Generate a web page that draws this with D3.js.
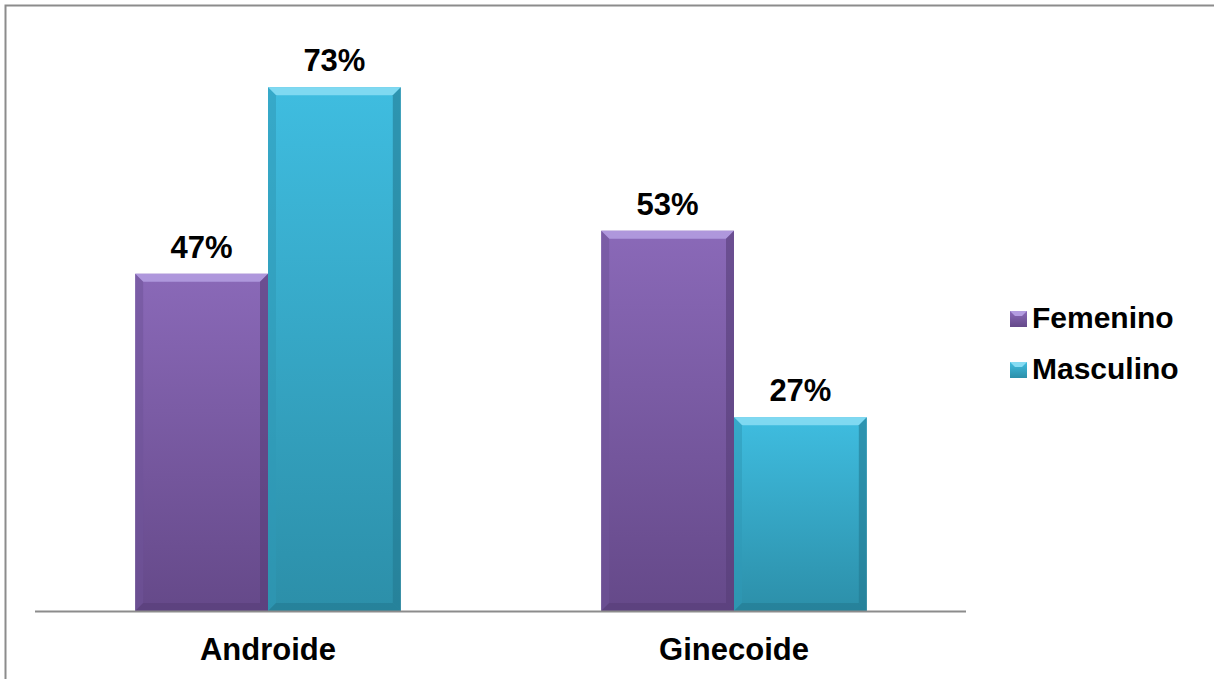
<!DOCTYPE html>
<html>
<head>
<meta charset="utf-8">
<script src="https://cdn.jsdelivr.net/npm/d3@7"></script>
<style>
  body { margin: 0; background: #fff; }
  text { font-family: Arial, "Liberation Sans", sans-serif; font-weight: bold; fill: #000; }
</style>
</head>
<body>
<script>
// categories and series
var categories = ["Androide", "Ginecoide"];
var seriesNames = ["Femenino", "Masculino"];
var femenino = [0.47, 0.53];
var masculino = [0.73, 0.27];

var width = 1214,
    height = 679;

var svg = d3.select("body").append("svg")
    .attr("width", width)
    .attr("height", height);

// gradients for the bevelled look
var palette = {
  Femenino:  { top: "#8a69b8", bottom: "#654989", light: "#b39ce0", side: "#6f5399", dark: "#563d78" },
  Masculino: { top: "#3fbde0", bottom: "#2c8fa9", light: "#86dcf3", side: "#3099b6", dark: "#237a91" }
};

var defs = svg.append("defs");
seriesNames.forEach(function(s) {
  var g = defs.append("linearGradient")
      .attr("id", "grad-" + s)
      .attr("x1", 0).attr("y1", 0).attr("x2", 0).attr("y2", 1);
  g.append("stop").attr("offset", "0%").attr("stop-color", palette[s].top);
  g.append("stop").attr("offset", "100%").attr("stop-color", palette[s].bottom);
});

// outer frame (right/bottom edges fall outside the picture)
svg.append("rect")
    .attr("x", 5.5).attr("y", 5.5)
    .attr("width", 1230).attr("height", 700)
    .attr("fill", "none")
    .attr("stroke", "#8c8c8c")
    .attr("stroke-width", 2);

var x0 = d3.scaleBand()
    .domain(categories)
    .range([35, 967])
    .paddingInner(0.43)
    .paddingOuter(0.215);

var x1 = d3.scaleBand()
    .domain(seriesNames)
    .range([0, x0.bandwidth()]);

var y = d3.scaleLinear()
    .domain([0, 0.8])
    .range([611, 37]);

var rows = categories.map(function(c, i) {
  return { category: c, values: [
    { series: "Femenino", value: femenino[i] },
    { series: "Masculino", value: masculino[i] }
  ]};
});

var bev = 8;

var groups = svg.selectAll(".group")
    .data(rows)
    .enter()
    .append("g")
      .attr("class", "group")
      .attr("transform", function(d) { return "translate(" + x0(d.category) + ",0)"; });

var bars = groups.selectAll(".bar")
    .data(function(d) { return d.values; })
    .enter()
    .append("g")
      .attr("class", "bar");

bars.each(function(d) {
  var g = d3.select(this),
      bx = x1(d.series),
      bw = x1.bandwidth(),
      by = y(d.value),
      bh = y(0) - y(d.value),
      p = palette[d.series];

  g.append("rect")
      .attr("x", bx).attr("y", by)
      .attr("width", bw).attr("height", bh)
      .attr("fill", "url(#grad-" + d.series + ")");

  // top bevel
  g.append("path")
      .attr("d", "M" + bx + "," + by + "L" + (bx + bw) + "," + by +
                 "L" + (bx + bw - bev) + "," + (by + bev) + "L" + (bx + bev) + "," + (by + bev) + "Z")
      .attr("fill", p.light).attr("opacity", 0.9);
  // left bevel
  g.append("path")
      .attr("d", "M" + bx + "," + by + "L" + (bx + bev) + "," + (by + bev) +
                 "L" + (bx + bev) + "," + (by + bh - bev) + "L" + bx + "," + (by + bh) + "Z")
      .attr("fill", p.side).attr("opacity", 0.55);
  // right bevel
  g.append("path")
      .attr("d", "M" + (bx + bw) + "," + by + "L" + (bx + bw - bev) + "," + (by + bev) +
                 "L" + (bx + bw - bev) + "," + (by + bh - bev) + "L" + (bx + bw) + "," + (by + bh) + "Z")
      .attr("fill", p.dark).attr("opacity", 0.6);
  // bottom bevel
  g.append("path")
      .attr("d", "M" + bx + "," + (by + bh) + "L" + (bx + bev) + "," + (by + bh - bev) +
                 "L" + (bx + bw - bev) + "," + (by + bh - bev) + "L" + (bx + bw) + "," + (by + bh) + "Z")
      .attr("fill", p.dark).attr("opacity", 0.6);

  // value label
  g.append("text")
      .attr("x", bx + bw / 2)
      .attr("y", by - 16)
      .attr("text-anchor", "middle")
      .style("font-size", "31px")
      .text(Math.round(d.value * 100) + "%");
});

// category axis line
svg.append("line")
    .attr("x1", 35).attr("x2", 966)
    .attr("y1", 611.5).attr("y2", 611.5)
    .attr("stroke", "#8c8c8c")
    .attr("stroke-width", 2);

svg.selectAll(".cat-label")
    .data(categories)
    .enter()
    .append("text")
      .attr("class", "cat-label")
      .attr("x", function(d) { return x0(d) + x0.bandwidth() / 2; })
      .attr("y", 660)
      .attr("text-anchor", "middle")
      .style("font-size", "31px")
      .text(function(d) { return d; });

// legend
var legend = svg.selectAll(".legend")
    .data(seriesNames)
    .enter()
    .append("g")
      .attr("class", "legend")
      .attr("transform", function(d, i) { return "translate(1010," + (311 + i * 51) + ")"; });

legend.append("rect")
    .attr("width", 17).attr("height", 16)
    .attr("fill", function(d) { return "url(#grad-" + d + ")"; });

legend.append("path")
    .attr("d", "M0,0L17,0L12,5L5,5Z")
    .attr("fill", function(d) { return palette[d].light; });

legend.append("text")
    .attr("x", 22)
    .attr("y", 17)
    .style("font-size", "30px")
    .text(function(d) { return d; });
</script>
</body>
</html>
